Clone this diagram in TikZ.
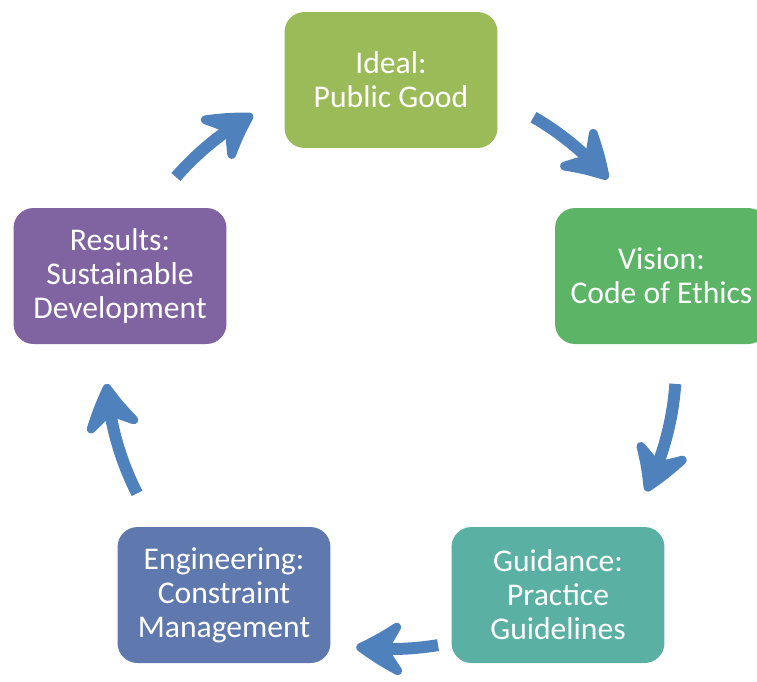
\documentclass[tikz,border=0pt]{standalone}
\usepackage{fontspec}
\setmainfont{Carlito}
\usetikzlibrary{arrows.meta,bending}

\definecolor{idealgreen}{HTML}{9BBB59}
\definecolor{visiongreen}{HTML}{5CB466}
\definecolor{guideteal}{HTML}{5BB0A4}
\definecolor{engblue}{HTML}{5F79AE}
\definecolor{resultpurple}{HTML}{8064A2}
\definecolor{arrowblue}{HTML}{4F81BD}

\tikzset{
  stagebox/.style={draw=none, rounded corners=0.4cm, minimum width=4.26cm,
    minimum height=2.72cm, align=center, text=white,
    font=\fontsize{18}{19.3}\selectfont},
  cyclearrow/.style={line width=6.8pt, draw=arrowblue,
    -{Stealth[length=33pt, width=39pt, inset=12pt, round, line width=5pt, bend]}}
}

\begin{document}
\begin{tikzpicture}[x=0.02cm, y=-0.02cm]
		% Frame
		\useasboundingbox (0,0) rectangle (757,681);
		\clip (0,0) rectangle (757,681);

		% Draw Stage Boxes
		\node[stagebox, fill=idealgreen] (ideal) at (391,80) {Ideal:\\Public Good};
		\node[stagebox, fill=visiongreen] (vision) at (661.5,276) {Vision:\\Code of Ethics};
		\node[stagebox, fill=guideteal] (guidance) at (558,595) {Guidance:\\Practice\\Guidelines};
		\node[stagebox, fill=engblue] (engineering) at (224,595) {Engineering:\\Constraint\\Management};
		\node[stagebox, fill=resultpurple] (results) at (120,276) {Results:\\Sustainable\\Development};

		% Cycle Centre
		\coordinate (hub) at (391,364);

		% Cycle Arrows
		% -- ideal to vision
		\draw[cyclearrow] (hub) ++(-60:285) arc[start angle=-60, end angle=-40.5, radius=285];
		% -- vision to guidance
		\draw[cyclearrow] (hub) ++(4:285) arc[start angle=4, end angle=26.5, radius=285];
		% -- guidance to engineering
		\draw[cyclearrow] (hub) ++(80.5:285) arc[start angle=80.5, end angle=97, radius=285];
		% -- engineering to results
		\draw[cyclearrow] (hub) ++(153:285) arc[start angle=153, end angle=176, radius=285];
		% -- results to ideal
		\draw[cyclearrow] (hub) ++(221:285) arc[start angle=221, end angle=241, radius=285];
	\end{tikzpicture}
\end{document}
